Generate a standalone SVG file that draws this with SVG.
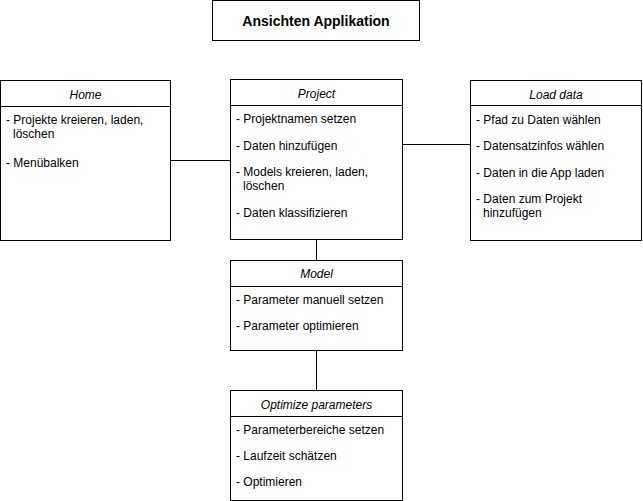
<svg xmlns="http://www.w3.org/2000/svg" width="643" height="501" viewBox="0 0 643 501">
<style>
.box{fill:#fff;stroke:#000;stroke-width:1}
.ln{stroke:#000;stroke-width:1;fill:none}
text{font-family:"Liberation Sans",Arial,Helvetica,sans-serif;font-size:12px;fill:#000}
.hd{font-style:italic;text-anchor:middle}
.title{font-weight:bold;font-size:14px;text-anchor:middle}
</style>
<rect width="643" height="501" fill="#fff"/>
<g id="connectors">
<path class="ln" d="M170.5 160.5H230.5"/>
<path class="ln" d="M402.5 144.5H470.5"/>
<path class="ln" d="M316.5 239.5V260.5"/>
<path class="ln" d="M316.5 350.5V390.5"/>
</g>
<g id="title">
<rect class="box" x="212.5" y="0.5" width="207" height="40"/>
<text class="title" x="316" y="26">Ansichten Applikation</text>
</g>
<g id="home">
<rect class="box" x="0.5" y="80.5" width="170" height="160"/>
<path class="ln" d="M0.5 106.5H170.5"/>
<text class="hd" x="85.5" y="98.5">Home</text>
<text x="6" y="124">- Projekte kreieren, laden,</text>
<text x="13" y="138">löschen</text>
<text x="6" y="167">- Menübalken</text>
</g>
<g id="project">
<rect class="box" x="230.5" y="79.5" width="172" height="160"/>
<path class="ln" d="M230.5 105.5H402.5"/>
<text class="hd" x="316.5" y="97.5">Project</text>
<text x="236" y="123">- Projektnamen setzen</text>
<text x="236" y="150">- Daten hinzufügen</text>
<text x="236" y="176">- Models kreieren, laden,</text>
<text x="243" y="190">löschen</text>
<text x="236" y="217">- Daten klassifizieren</text>
</g>
<g id="loaddata">
<rect class="box" x="470.5" y="80.5" width="171" height="160"/>
<path class="ln" d="M470.5 105.5H641.5"/>
<text class="hd" x="556" y="98.5">Load data</text>
<text x="476" y="124">- Pfad zu Daten wählen</text>
<text x="476" y="150">- Datensatzinfos wählen</text>
<text x="476" y="177">- Daten in die App laden</text>
<text x="476" y="203">- Daten zum Projekt</text>
<text x="483" y="217">hinzufügen</text>
</g>
<g id="model">
<rect class="box" x="230.5" y="260.5" width="172" height="90"/>
<path class="ln" d="M230.5 286.5H402.5"/>
<text class="hd" x="316.5" y="277.5">Model</text>
<text x="236" y="304">- Parameter manuell setzen</text>
<text x="236" y="330">- Parameter optimieren</text>
</g>
<g id="optimize">
<rect class="box" x="230.5" y="390.5" width="172" height="110"/>
<path class="ln" d="M230.5 416.5H402.5"/>
<text class="hd" x="316.5" y="408.5">Optimize parameters</text>
<text x="236" y="434">- Parameterbereiche setzen</text>
<text x="236" y="460">- Laufzeit schätzen</text>
<text x="236" y="486">- Optimieren</text>
</g>
</svg>
